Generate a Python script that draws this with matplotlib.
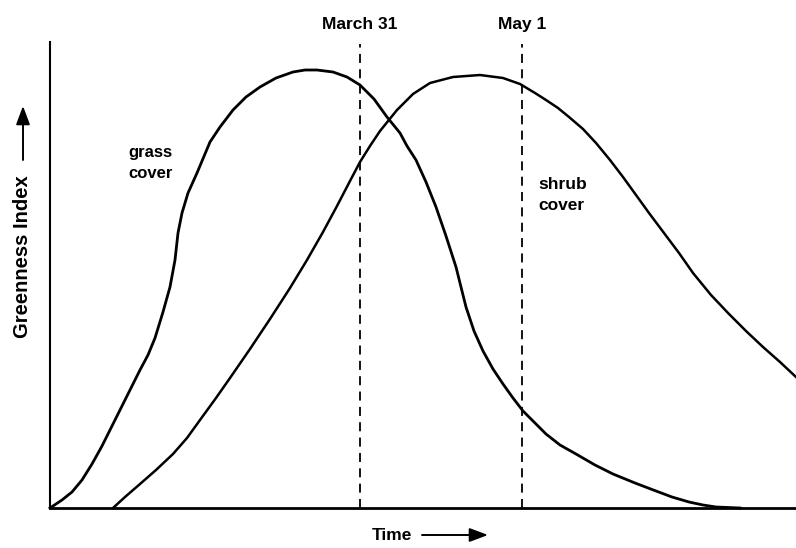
import numpy as np
import matplotlib.pyplot as plt
from matplotlib.patches import FancyArrowPatch

# Curves (time units, greenness units)
grass_t = [0, 12, 22, 32, 42, 52, 63, 73, 83, 90, 98, 105, 113, 120, 125, 128, 132, 138,
           147, 160, 170, 183, 196, 210, 226, 243, 255, 267, 283, 297, 310, 324, 337, 350,
           357, 366, 376, 386, 396, 406, 416, 424, 433, 443, 453, 463, 473, 485, 496, 510,
           526, 545, 563, 585, 606, 622, 639, 653, 666, 690]
grass_g = [0, 8, 16, 28, 44, 62, 84, 104, 124, 138, 153, 170, 196, 221, 248, 275, 295, 315,
           335, 366, 381, 398, 411, 421, 430, 436, 438, 438, 436, 431, 423, 409, 391, 375,
           362, 348, 326, 301, 272, 241, 201, 177, 157, 139, 124, 110, 97, 85, 74, 63,
           54, 43, 34, 25, 17, 11, 6, 3, 1, 0]

shrub_t = [63, 75, 90, 106, 123, 137, 150, 166, 180, 200, 220, 240, 257, 273, 287, 300, 310,
           320, 330, 347, 363, 380, 403, 430, 453, 470, 485, 496, 508, 519, 533, 546, 560,
           573, 586, 599, 614, 629, 643, 661, 679, 696, 713, 730, 746]
shrub_g = [0, 11, 24, 38, 54, 70, 88, 110, 130, 159, 189, 220, 248, 276, 302, 327, 346,
           362, 377, 398, 414, 425, 431, 433, 430, 424, 415, 408, 400, 391, 379, 365, 348,
           331, 313, 295, 275, 255, 235, 213, 194, 177, 161, 146, 131]

march31 = 310
may1 = 472

plt.rcParams['font.family'] = ['Liberation Sans', 'DejaVu Sans']

W, H = 796, 548
fig = plt.figure(figsize=(W / 100, H / 100), dpi=100)
ax = fig.add_axes([50 / W, 1 - 508 / H, 746 / W, 466 / H])
ax.set_xlim(0, 746)
ax.set_ylim(0, 466)

ax.plot(grass_t, grass_g, color='black', lw=2.0, solid_joinstyle='round', clip_on=False)
ax.plot(shrub_t, shrub_g, color='black', lw=1.8, solid_joinstyle='round', clip_on=False)

for xv, lab in [(march31, 'March 31'), (may1, 'May 1')]:
    ax.plot([xv, xv], [0, 464], color='black', lw=1.3, ls=(0, (5, 3.5)))
    ax.text(xv, 476, lab, ha='center', va='bottom', fontsize=12.5, fontweight='bold')

ax.text(78, 345, 'grass\ncover', fontsize=12, fontweight='bold', linespacing=1.55, va='center')
ax.text(488, 313, 'shrub\ncover', fontsize=12.5, fontweight='bold', linespacing=1.5, va='center')

for s in ['top', 'right']:
    ax.spines[s].set_visible(False)
ax.spines['left'].set_linewidth(1.5)
ax.spines['bottom'].set_linewidth(2.0)
ax.set_xticks([])
ax.set_yticks([])

# axis labels with arrows (figure pixel positions)
def fx(px):
    return px / W

def fy(py):
    return 1 - py / H

arrow = dict(arrowstyle='-|>,head_length=0.8,head_width=0.3', color='black', lw=1.4,
             shrinkA=0, shrinkB=0, mutation_scale=14, transform=fig.transFigure)

fig.text(fx(392), fy(535), 'Time', ha='center', va='center', fontsize=12.5, fontweight='bold')
fig.add_artist(FancyArrowPatch((fx(422), fy(535)), (fx(488), fy(535)), **arrow))

fig.text(fx(23), fy(257), 'Greenness Index', ha='center', va='center', rotation=90,
         fontsize=14.5, fontweight='bold')
fig.add_artist(FancyArrowPatch((fx(23), fy(160)), (fx(23), fy(106)), **arrow))

fig.savefig('out.png', dpi=100)
